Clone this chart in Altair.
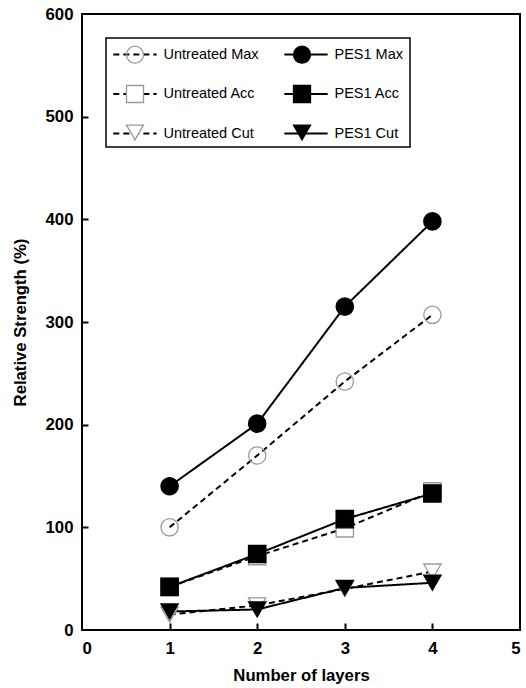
import altair as alt
import pandas as pd

layers = [1, 2, 3, 4]
untreated_max = [100, 170, 242, 307]
pes1_max = [140, 201, 315, 398]
untreated_acc = [42, 72, 99, 135]
pes1_acc = [42, 74, 108, 133]
untreated_cut = [15, 24, 40, 57]
pes1_cut = [18, 20, 41, 46]

# column-major order for a 2-column legend
series_order = ["Untreated Max", "Untreated Acc", "Untreated Cut",
                "PES1 Max", "PES1 Acc", "PES1 Cut"]
series_values = [untreated_max, untreated_acc, untreated_cut,
                 pes1_max, pes1_acc, pes1_cut]

ZW = "\u200b"  # zero-width suffix keeps the line legend separate from the marker legend
rows = []
for name, vals in zip(series_order, series_values):
    for lx, v in zip(layers, vals):
        rows.append({"layers": lx, "strength": v, "series": name,
                     "series_l": name + ZW})
df = pd.DataFrame(rows)
line_order = [s + ZW for s in series_order]

W, H = 438, 616
FONT = "Liberation Sans"

shape_range = ["circle", "square", "triangle-down", "circle", "square", "triangle-down"]
fill_range = ["transparent", "white", "white", "black", "black", "black"]
stroke_range = ["#9a9a9a", "#9a9a9a", "#9a9a9a", "black", "black", "black"]
dash_range = [[6, 4], [6, 4], [6, 4], [1, 0], [1, 0], [1, 0]]

common_leg = dict(
    title=None, orient="none", legendX=24, legendY=24, columns=2,
    symbolSize=289, labelFont=FONT, labelFontSize=14.5, labelColor="black",
    labelOffset=19, columnPadding=21, padding=7, symbolOffset=12.5,
)

leg_line = alt.Legend(symbolType="M-2.55,0H2.55", symbolStrokeColor="black",
                      symbolStrokeWidth=2, strokeColor="black", rowPadding=23.5,
                      **common_leg)
leg_pt = alt.Legend(symbolStrokeWidth=1.3, labelOpacity=0, rowPadding=16.5,
                    **common_leg)

x_scale = alt.Scale(domain=[0, 5], nice=False)
y_scale = alt.Scale(domain=[0, 600], nice=False)

lines = alt.Chart(df).mark_line(color="black", strokeWidth=2).encode(
    x=alt.X("layers:Q", scale=x_scale,
            axis=alt.Axis(title="Number of layers", values=[0, 1, 2, 3, 4, 5],
                          ticks=False, tickSize=0, domain=False, grid=False,
                          labelPadding=10, titlePadding=11)),
    y=alt.Y("strength:Q", scale=y_scale,
            axis=alt.Axis(title="Relative Strength (%)",
                          values=[0, 100, 200, 300, 400, 500, 600],
                          ticks=False, tickSize=0, domain=False, grid=False,
                          labelPadding=9, titlePadding=16)),
    strokeDash=alt.StrokeDash("series_l:N",
                              scale=alt.Scale(domain=line_order, range=dash_range),
                              legend=leg_line),
)

points = alt.Chart(df).mark_point(filled=True, size=300, opacity=1, strokeWidth=1.3).encode(
    x=alt.X("layers:Q", scale=x_scale,
            axis=alt.Axis(orient="top", offset=-H, values=[1, 2, 3, 4], labels=False,
                          ticks=True, tickSize=7, tickWidth=2, tickColor="black",
                          domain=False, grid=False, title=None)),
    y=alt.Y("strength:Q", scale=y_scale,
            axis=alt.Axis(orient="right", offset=-W, values=[100, 200, 300, 400, 500],
                          labels=False, ticks=True, tickSize=6, tickWidth=2,
                          tickColor="black", domain=False, grid=False, title=None)),
    shape=alt.Shape("series:N", scale=alt.Scale(domain=series_order, range=shape_range),
                    legend=leg_pt),
    fill=alt.Fill("series:N", scale=alt.Scale(domain=series_order, range=fill_range),
                  legend=leg_pt),
    stroke=alt.Stroke("series:N", scale=alt.Scale(domain=series_order, range=stroke_range),
                      legend=leg_pt),
)

chart = alt.layer(lines, points).resolve_axis(
    x="independent", y="independent"
).properties(
    width=W, height=H,
    autosize=alt.AutoSizeParams(type="none"),
    padding={"left": 82, "top": 14, "right": 6, "bottom": 58},
    background="white",
).configure_view(
    stroke="black", strokeWidth=2
).configure_axis(
    labelFont=FONT, labelFontSize=16.8, labelFontWeight="bold", labelColor="black",
    titleFont=FONT, titleFontSize=16.7, titleFontWeight="bold", titleColor="black",
).configure_legend(
    strokeWidth=1.5
)

chart.save("out.html", embed_options={"renderer": "svg", "actions": False})
